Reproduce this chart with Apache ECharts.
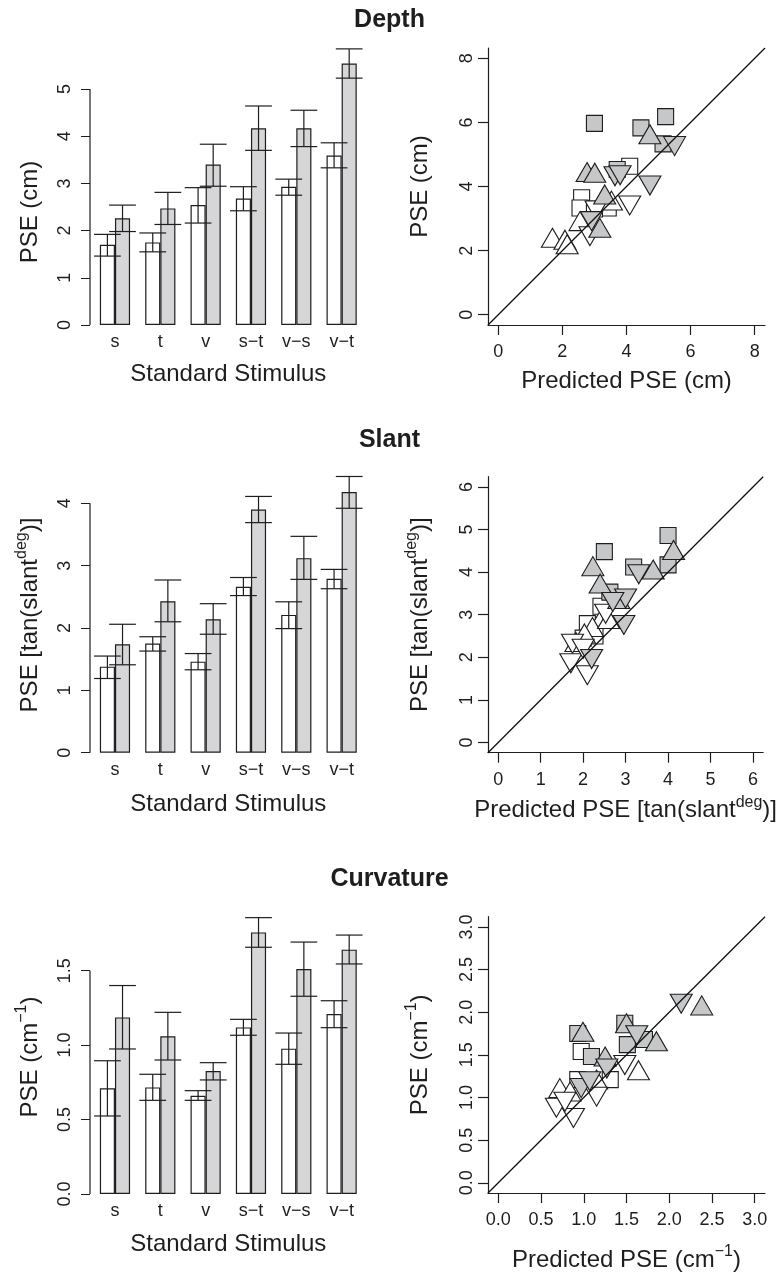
<!DOCTYPE html>
<html><head><meta charset="utf-8">
<script src="https://cdn.jsdelivr.net/npm/echarts@6/dist/echarts.min.js"></script>
<style>html,body{margin:0;padding:0;background:#fff}#c{width:779px;height:1273px}</style>
</head><body><div id="c"></div>
<script>
// ---------- data ----------
const categories = ['s', 't', 'v', 's\u2212t', 'v\u2212s', 'v\u2212t'];

const depthWhite   = [1.70, 1.75, 2.54, 2.68, 2.93, 3.59];
const depthWhiteLo = [1.46, 1.55, 2.16, 2.42, 2.75, 3.33];
const depthWhiteHi = [1.92, 1.95, 2.91, 2.93, 3.09, 3.86];
const depthGray    = [2.26, 2.47, 3.40, 4.17, 4.17, 5.54];
const depthGrayLo  = [1.98, 2.13, 2.94, 3.70, 3.78, 5.23];
const depthGrayHi  = [2.54, 2.81, 3.83, 4.64, 4.55, 5.85];

const slantWhite   = [1.38, 1.75, 1.46, 2.66, 2.21, 2.79];
const slantWhiteLo = [1.19, 1.63, 1.33, 2.52, 1.99, 2.63];
const slantWhiteHi = [1.55, 1.86, 1.59, 2.81, 2.42, 2.94];
const slantGray    = [1.74, 2.43, 2.14, 3.90, 3.12, 4.18];
const slantGrayLo  = [1.41, 2.10, 1.90, 3.69, 2.78, 3.92];
const slantGrayHi  = [2.06, 2.77, 2.39, 4.11, 3.47, 4.43];

const curvWhite    = [0.710, 0.716, 0.660, 1.119, 0.976, 1.209];
const curvWhiteLo  = [0.524, 0.629, 0.629, 1.066, 0.871, 1.117];
const curvWhiteHi  = [0.895, 0.804, 0.694, 1.173, 1.081, 1.298];
const curvGray     = [1.186, 1.059, 0.826, 1.757, 1.511, 1.641];
const curvGrayLo   = [0.974, 0.900, 0.766, 1.657, 1.328, 1.545];
const curvGrayHi   = [1.400, 1.220, 0.882, 1.856, 1.692, 1.739];

const depthTicks = [0, 1, 2, 3, 4, 5];
const slantTicks = [0, 1, 2, 3, 4];
const curvTicks  = [0, 0.5, 1.0, 1.5];

// scatter: [predicted, observed]
const depthWhiteSq   = [[4.10,4.63],[2.60,3.65],[2.55,3.33],[3.43,3.33],[3.00,3.30]];
const depthWhiteUp   = [[3.53,3.56],[2.55,2.92],[1.69,2.40],[2.08,2.34],[2.15,2.20]];
const depthWhiteDown = [[4.10,3.41],[2.86,2.45],[3.05,3.25]];
const depthGraySq    = [[3.00,5.97],[5.22,6.18],[4.45,5.83],[5.14,5.33],[3.71,4.53]];
const depthGrayUp    = [[4.73,5.63],[2.77,4.45],[3.01,4.43],[3.32,3.75],[3.17,2.71]];
const depthGrayDown  = [[5.50,5.26],[3.64,4.32],[3.80,4.35],[4.73,4.03],[2.91,2.92]];

const slantWhiteSq   = [[2.42,3.20],[2.10,2.79],[2.28,2.50],[2.00,2.45]];
const slantWhiteUp   = [[2.45,2.95],[2.22,2.71],[2.03,2.56],[1.83,2.36],[2.60,2.90]];
const slantWhiteDown = [[1.75,2.32],[1.71,1.86],[2.10,1.58],[2.53,3.02],[2.00,2.20]];
const slantGraySq    = [[2.50,4.48],[4.00,4.86],[3.19,4.12],[4.00,4.17],[2.63,3.53]];
const slantGrayUp    = [[2.23,4.14],[2.40,3.73],[3.65,4.06],[4.13,4.52],[2.84,3.37]];
const slantGrayDown  = [[3.31,3.95],[3.00,3.38],[2.70,3.30],[2.96,2.76],[2.20,1.96]];

const curvWhiteSq    = [[0.97,1.54],[0.93,1.21],[1.31,1.21]];
const curvWhiteUp    = [[1.15,1.21],[1.64,1.32],[0.72,1.11],[0.84,1.07]];
const curvWhiteDown  = [[1.48,1.38],[1.15,1.01],[0.68,0.88],[0.88,0.76],[0.78,0.95]];
const curvGraySq     = [[0.93,1.75],[1.48,1.87],[1.71,1.68],[1.51,1.62],[1.09,1.48]];
const curvGrayUp     = [[2.38,2.08],[1.50,1.87],[0.99,1.77],[1.85,1.66],[1.25,1.48]];
const curvGrayDown   = [[2.14,2.10],[1.62,1.73],[1.27,1.34],[0.97,1.11],[1.07,1.19]];

const depthScatterTicks = [0, 2, 4, 6, 8];
const slantScatterTicks = [0, 1, 2, 3, 4, 5, 6];
const curvScatterTicks  = [0, 0.5, 1.0, 1.5, 2.0, 2.5, 3.0];

// ---------- style ----------
const FONT = "'Liberation Sans', Arial, Helvetica, sans-serif";
const INK = '#1e1e1e';
const BAR_GRAY = '#d6d6d8';
const PT_GRAY = '#c6c7c9';

const grids = [], xAxes = [], yAxes = [], series = [];

function supName(base, sup, tail) {
  return '{b|' + base + '}{s|' + sup + '}{b|' + tail + '}';
}
const richName = {
  b: {fontSize: 24, fontFamily: FONT, color: INK, lineHeight: 32},
  s: {fontSize: 16, fontFamily: FONT, color: INK, lineHeight: 16, verticalAlign: 'top'}
};

function addBarPanel(p) {
  const gi = grids.length;
  const top = p.y0 - p.topVal * p.unit;
  const bottom = 2 * p.nameCY - top;
  const minVal = -(bottom - p.y0) / p.unit;
  grids.push({left: 92.3, width: 272, top: top, height: bottom - top});
  xAxes.push({
    type: 'category', gridIndex: gi, data: categories,
    offset: -(bottom - p.y0),
    axisLine: {show: false, onZero: false}, axisTick: {show: false},
    axisLabel: {interval: 0, margin: 8, fontSize: 18, color: INK, fontFamily: FONT},
    name: 'Standard Stimulus', nameLocation: 'middle', nameGap: p.xNameGap,
    nameTextStyle: {fontSize: 24, color: INK, fontFamily: FONT}
  });
  yAxes.push({
    type: 'value', gridIndex: gi, min: minVal, max: p.topVal, offset: 2.3,
    axisLine: {show: false},
    axisTick: {show: true, length: 9, customValues: p.ticks, lineStyle: {color: INK, width: 1}},
    axisLabel: {rotate: 90, margin: 16, customValues: p.ticks, formatter: p.fmt,
                fontSize: 18, color: INK, fontFamily: FONT},
    splitLine: {show: false},
    name: p.name, nameLocation: 'middle', nameGap: p.nameGap, nameRotate: 90,
    nameTextStyle: Object.assign({fontSize: 24, color: INK, fontFamily: FONT}, p.rich ? {rich: richName} : {})
  });
  series.push({
    type: 'bar', xAxisIndex: gi, yAxisIndex: gi, data: p.white,
    barWidth: '33.33%', barGap: '0%', silent: true,
    itemStyle: {color: '#fff', borderColor: INK, borderWidth: 1.2}
  });
  series.push({
    type: 'bar', xAxisIndex: gi, yAxisIndex: gi, data: p.gray,
    barWidth: '33.33%', barGap: '0%', silent: true,
    itemStyle: {color: BAR_GRAY, borderColor: INK, borderWidth: 1.2}
  });
  const errData = [];
  p.wLo.forEach((v, k) => errData.push([k, v, p.wHi[k], 0]));
  p.gLo.forEach((v, k) => errData.push([k, v, p.gHi[k], 1]));
  series.push({
    type: 'custom', xAxisIndex: gi, yAxisIndex: gi, data: errData, z: 5, silent: true,
    encode: {x: 0, y: [1, 2]},
    renderItem: function (params, api) {
      const band = api.size([1, 0])[0];
      const c = api.coord([api.value(0), api.value(1)]);
      const h = api.coord([api.value(0), api.value(2)]);
      const x = c[0] + (api.value(3) === 0 ? -1 : 1) * band / 6;
      const hw = band * 0.295;
      const st = {stroke: INK, lineWidth: 1.2};
      return {type: 'group', children: [
        {type: 'line', shape: {x1: x, y1: c[1], x2: x, y2: h[1]}, style: st},
        {type: 'line', shape: {x1: x - hw, y1: c[1], x2: x + hw, y2: c[1]}, style: st},
        {type: 'line', shape: {x1: x - hw, y1: h[1], x2: x + hw, y2: h[1]}, style: st}
      ]};
    }
  });
  // R-style axis line spanning first..last tick
  series.push({
    type: 'custom', xAxisIndex: gi, yAxisIndex: gi, z: 5, silent: true,
    data: [[0, p.ticks[0], p.ticks[p.ticks.length - 1]]],
    encode: {x: 0, y: [1, 2]},
    renderItem: function (params, api) {
      const a = api.coord([0, api.value(1)]);
      const b = api.coord([0, api.value(2)]);
      const x = params.coordSys.x - 2.3;
      return {type: 'line', shape: {x1: x, y1: a[1], x2: x, y2: b[1]}, style: {stroke: INK, lineWidth: 1.2}};
    }
  });
}

function addScatterPanel(p) {
  const gi = grids.length;
  grids.push({left: 488, width: 277, top: p.top, height: p.bottom - p.top});
  const axisCommon = {
    type: 'value', gridIndex: gi, min: p.min, max: p.max,
    axisLine: {show: true, onZero: false, lineStyle: {color: INK, width: 1.2}},
    axisTick: {show: true, length: 10, customValues: p.ticks, lineStyle: {color: INK, width: 1.2}},
    splitLine: {show: false}
  };
  xAxes.push(Object.assign({}, axisCommon, {
    axisLabel: {margin: 18, customValues: p.ticks, formatter: p.fmt, fontSize: 18, color: INK, fontFamily: FONT},
    name: p.xName, nameLocation: 'middle', nameGap: p.xNameGap,
    nameTextStyle: Object.assign({fontSize: 24, color: INK, fontFamily: FONT}, p.rich ? {rich: richName} : {})
  }));
  yAxes.push(Object.assign({}, axisCommon, {
    axisLabel: {rotate: 90, margin: 12, customValues: p.ticks, formatter: p.fmt, fontSize: 18, color: INK, fontFamily: FONT},
    name: p.yName, nameLocation: 'middle', nameGap: p.yNameGap, nameRotate: 90,
    nameTextStyle: Object.assign({fontSize: 24, color: INK, fontFamily: FONT}, p.rich ? {rich: richName} : {})
  }));
  const groups = [
    [p.wSq, 'rect', 16, 0, '#fff'],
    [p.wUp, 'triangle', [22, 19], 0, '#fff'],
    [p.wDown, 'triangle', [22, 19], 180, '#fff'],
    [p.gSq, 'rect', 16, 0, PT_GRAY],
    [p.gUp, 'triangle', [22, 19], 0, PT_GRAY],
    [p.gDown, 'triangle', [22, 19], 180, PT_GRAY]
  ];
  groups.forEach(g => series.push({
    type: 'scatter', xAxisIndex: gi, yAxisIndex: gi, data: g[0], silent: true,
    symbol: g[1], symbolSize: g[2], symbolRotate: g[3],
    itemStyle: {color: g[4], borderColor: INK, borderWidth: 1.1, opacity: 1}
  }));
  series.push({
    type: 'line', xAxisIndex: gi, yAxisIndex: gi, silent: true, z: 4,
    data: [[p.min, p.min], [p.max, p.max]], symbol: 'none',
    lineStyle: {color: '#111', width: 1.3}
  });
}

const intFmt = v => String(Math.round(v));
const oneDec = v => Number(v).toFixed(1);

addBarPanel({y0: 325, unit: 47.2, topVal: 6, nameCY: 212, ticks: depthTicks, fmt: intFmt,
  name: 'PSE (cm)', nameGap: 48, xNameGap: 37,
  white: depthWhite, gray: depthGray, wLo: depthWhiteLo, wHi: depthWhiteHi, gLo: depthGrayLo, gHi: depthGrayHi});
addScatterPanel({top: 48, bottom: 325, min: -0.32, max: 8.32, ticks: depthScatterTicks, fmt: intFmt,
  xName: 'Predicted PSE (cm)', xNameGap: 44, yName: 'PSE (cm)', yNameGap: 56,
  wSq: depthWhiteSq, wUp: depthWhiteUp, wDown: depthWhiteDown, gSq: depthGraySq, gUp: depthGrayUp, gDown: depthGrayDown});

addBarPanel({y0: 752.7, unit: 62.35, topVal: 4.6, nameCY: 615, ticks: slantTicks, fmt: intFmt,
  name: supName('PSE [tan(slant', 'deg', ')]'), nameGap: 44, rich: true, xNameGap: 40,
  white: slantWhite, gray: slantGray, wLo: slantWhiteLo, wHi: slantWhiteHi, gLo: slantGrayLo, gHi: slantGrayHi});
addScatterPanel({top: 476.7, bottom: 752.7, min: -0.24, max: 6.24, ticks: slantScatterTicks, fmt: intFmt, rich: true,
  xName: supName('Predicted PSE [tan(slant', 'deg', ')]'), xNameGap: 42,
  yName: supName('PSE [tan(slant', 'deg', ')]'), yNameGap: 52,
  wSq: slantWhiteSq, wUp: slantWhiteUp, wDown: slantWhiteDown, gSq: slantGraySq, gUp: slantGrayUp, gDown: slantGrayDown});

addBarPanel({y0: 1194, unit: 148.9, topVal: 2.0, nameCY: 1057, ticks: curvTicks, fmt: oneDec,
  name: supName('PSE (cm', '\u22121', ')'), nameGap: 44, rich: true, xNameGap: 38,
  white: curvWhite, gray: curvGray, wLo: curvWhiteLo, wHi: curvWhiteHi, gLo: curvGrayLo, gHi: curvGrayHi});
addScatterPanel({top: 916.7, bottom: 1193.3, min: -0.12, max: 3.12, ticks: curvScatterTicks, fmt: oneDec, rich: true,
  xName: supName('Predicted PSE (cm', '\u22121', ')'), xNameGap: 51,
  yName: supName('PSE (cm', '\u22121', ')'), yNameGap: 52,
  wSq: curvWhiteSq, wUp: curvWhiteUp, wDown: curvWhiteDown, gSq: curvGraySq, gUp: curvGrayUp, gDown: curvGrayDown});

const titleStyle = {fontSize: 25, fontWeight: 'bold', color: INK, fontFamily: FONT};
const chart = echarts.init(document.getElementById('c'));
chart.setOption({
  animation: false,
  backgroundColor: '#fff',
  title: [
    {text: 'Depth', left: 'center', top: 3, textStyle: titleStyle},
    {text: 'Slant', left: 'center', top: 423, textStyle: titleStyle},
    {text: 'Curvature', left: 'center', top: 862, textStyle: titleStyle}
  ],
  grid: grids, xAxis: xAxes, yAxis: yAxes, series: series
});
</script></body></html>
